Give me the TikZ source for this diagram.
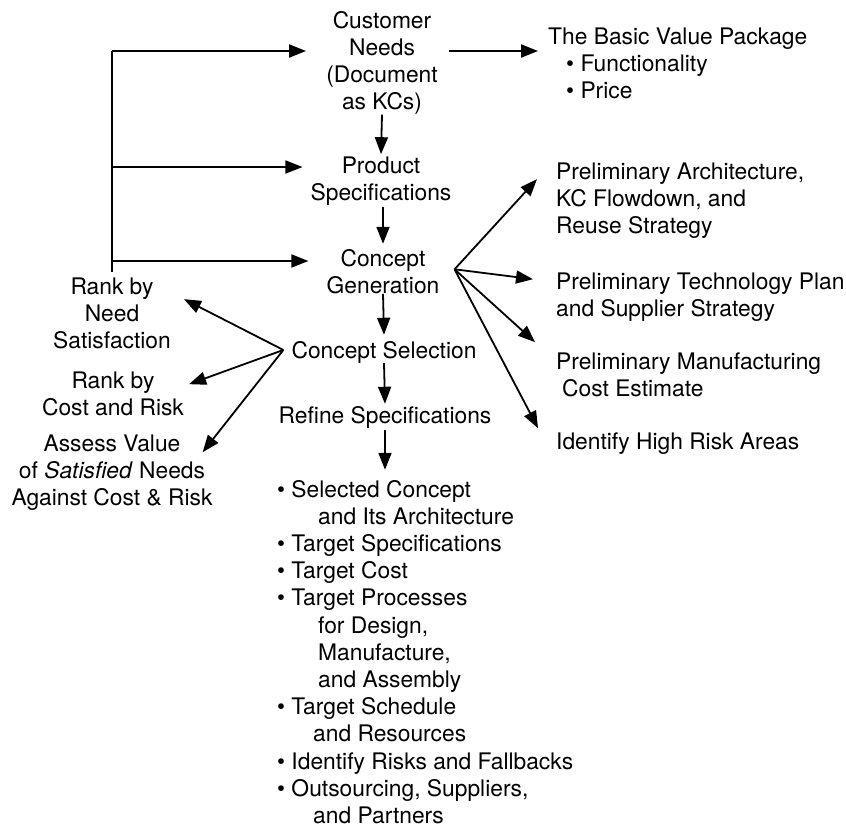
\documentclass[tikz,border=0pt]{standalone}
\usepackage{fontspec}
\setmainfont{TeX Gyre Heros}
\usetikzlibrary{arrows.meta,calc}
\begin{document}
\begin{tikzpicture}[x=1pt,y=-1pt,
  every node/.style={inner sep=0pt, font=\fontsize{22.8}{27.2}\selectfont},
  lbl/.style={align=center, anchor=base},
  lftlbl/.style={align=left, anchor=base west},
  link/.style={line width=1.8pt, -{Triangle[length=17pt,width=13pt]}},
  bar/.style={line width=1.8pt}]
\useasboundingbox (0,0) rectangle (846,827);

% main chain (positions are the baselines of the last lines)
\node[lbl] (cn) at (382,109.6) {Customer\\Needs\\(Document\\as KCs)};
\node[lftlbl] (bvp) at (548,98.4) {The Basic Value Package\\\hspace*{18pt}\textbullet\ Functionality\\\hspace*{18pt}\textbullet\ Price};
\node[lbl] (ps) at (381,200.2) {Product\\Specifications};
\node[lbl] (cg) at (383,293.2) {Concept\\Generation};
\node[lbl] (cs) at (384,358) {Concept Selection};
\node[lbl] (rs) at (385,423) {Refine Specifications};
\node[lftlbl] (out) at (277,823.4) {\textbullet\ Selected Concept\\
  \hspace*{41pt}and Its Architecture\\
  \textbullet\ Target Specifications\\
  \textbullet\ Target Cost\\
  \textbullet\ Target Processes\\
  \hspace*{41pt}for Design,\\
  \hspace*{41pt}Manufacture,\\
  \hspace*{41pt}and Assembly\\
  \textbullet\ Target Schedule\\
  \hspace*{36pt}and Resources\\
  \textbullet\ Identify Risks and Fallbacks\\
  \textbullet\ Outsourcing, Suppliers,\\
  \hspace*{36pt}and Partners};

% evaluation steps on the left
\node[lbl] (rn) at (112,348.4) {Rank by\\Need\\Satisfaction};
\node[lbl] (rc) at (113,415.2) {Rank by\\Cost and Risk};
\node[lbl] (av) at (112,505.4) {Assess Value\\of \textit{Satisfied} Needs\\Against Cost \& Risk};

% outputs of concept generation
\node[lftlbl] (pa) at (556,233.4) {Preliminary Architecture,\\KC Flowdown, and\\Reuse Strategy};
\node[lftlbl] (pt) at (556,316.2) {Preliminary Technology Plan\\and Supplier Strategy};
\node[lftlbl] (pm) at (556,396.2) {Preliminary Manufacturing\\\hspace*{6pt}Cost Estimate};
\node[lftlbl] (hr) at (556,449) {Identify High Risk Areas};

% feedback spine
\coordinate (sptop) at (112,51);
\coordinate (spbot) at (112,272);
\draw[bar] (spbot) -- (sptop);
\draw[link] (sptop) -- ([xshift=-20pt]cn.west |- sptop);
\draw[link] (sptop |- 0,167) -- ([xshift=-8pt]ps.west |- 0,167);
\draw[link] (sptop |- 0,261) -- ([xshift=-18pt]cg.west |- 0,261);

% forward flow
\draw[link] ([xshift=11pt]cn.east |- sptop) -- ([xshift=-10pt]bvp.west |- sptop);
\draw[link] (cn.south) -- ([yshift=2pt]ps.north);
\draw[link] ([yshift=-2pt,xshift=2pt]ps.south) -- ([yshift=5pt]cg.north);
\draw[link] (cg.south) -- ([yshift=6pt]cs.north);
\draw[link] (cs.south) -- ([yshift=2pt]rs.north);
\draw[link] ([yshift=-2pt]rs.south) -- ([yshift=10pt]rs.south |- out.north);

% evaluation fan
\coordinate (csl) at ([xshift=-8pt,yshift=2pt]cs.west);
\draw[link] (csl) -- ([xshift=13pt,yshift=-22pt]rn.north east);
\draw[link] (csl) -- ([xshift=5pt,yshift=-13pt]rc.north east);
\draw[link] (csl) -- ([xshift=-10pt,yshift=-18pt]av.north east);

% generation fan
\coordinate (cgr) at ([xshift=15pt,yshift=2pt]cg.east);
\draw[link] (cgr) -- ([xshift=-19pt,yshift=-17pt]pa.north west);
\draw[link] (cgr) -- ([xshift=-23pt,yshift=-7pt]pt.north west);
\draw[link] (cgr) -- ([xshift=-21pt,yshift=10pt]pm.north west);
\draw[link] (cgr) -- ([xshift=-18pt,yshift=4pt]hr.north west);
\end{tikzpicture}
\end{document}
